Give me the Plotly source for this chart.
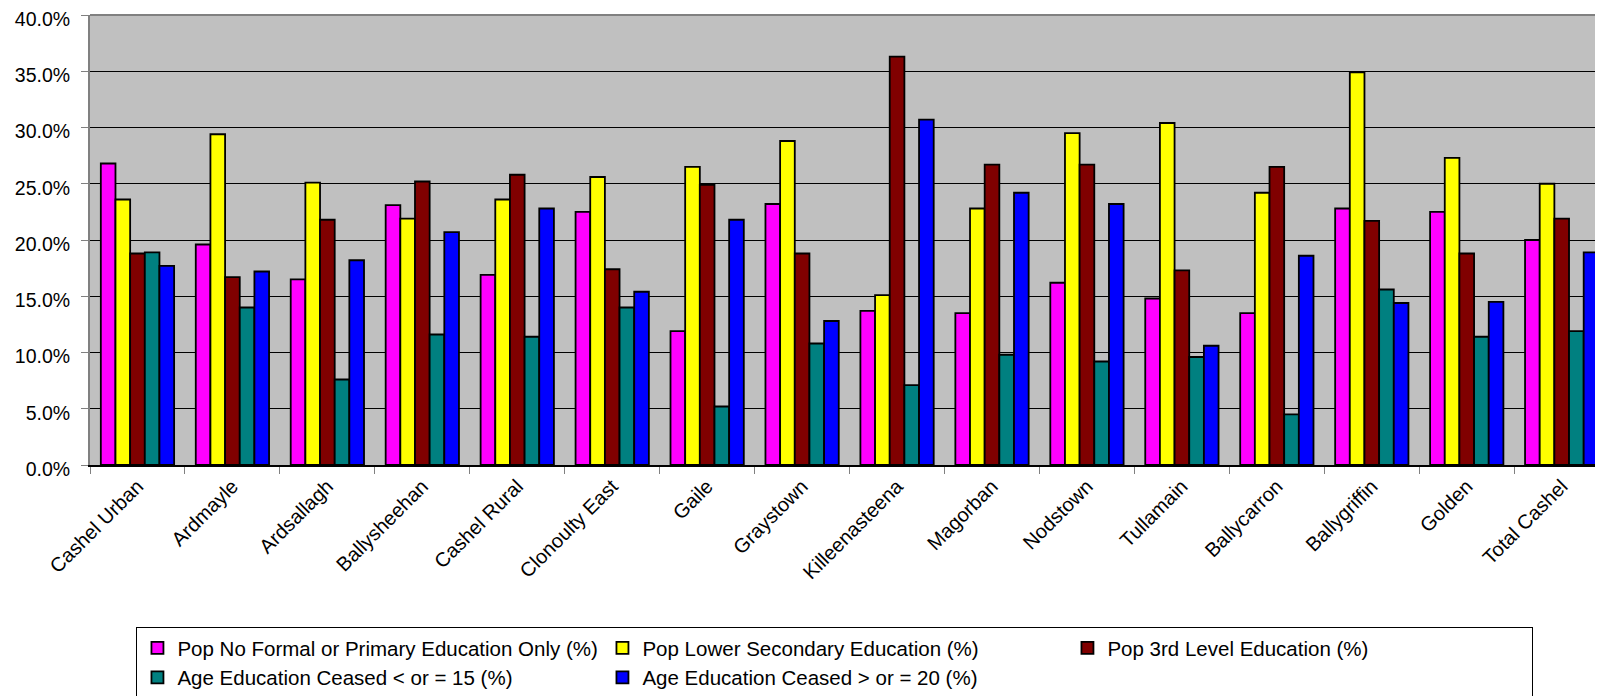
import plotly.graph_objects as go

# Education levels by area, values in percent
areas = ["Cashel Urban", "Ardmayle", "Ardsallagh", "Ballysheehan", "Cashel Rural",
         "Clonoulty East", "Gaile", "Graystown", "Killeenasteena", "Magorban",
         "Nodstown", "Tullamain", "Ballycarron", "Ballygriffin", "Golden", "Total Cashel"]

no_formal_primary = [26.8, 19.6, 16.5, 23.1, 16.9, 22.5, 11.9, 23.2, 13.7, 13.5,
                     16.2, 14.8, 13.5, 22.8, 22.5, 20.0]
lower_secondary = [23.6, 29.4, 25.1, 21.9, 23.6, 25.6, 26.5, 28.8, 15.1, 22.8,
                   29.5, 30.4, 24.2, 34.9, 27.3, 25.0]
third_level = [18.8, 16.7, 21.8, 25.2, 25.8, 17.4, 24.9, 18.8, 36.3, 26.7,
               26.7, 17.3, 26.5, 21.7, 18.8, 21.9]
ceased_15 = [18.9, 14.0, 7.6, 11.6, 11.4, 14.0, 5.2, 10.8, 7.1, 9.8,
             9.2, 9.6, 4.5, 15.6, 11.4, 11.9]
ceased_20 = [17.7, 17.2, 18.2, 20.7, 22.8, 15.4, 21.8, 12.8, 30.7, 24.2,
             23.2, 10.6, 18.6, 14.4, 14.5, 18.9]

series = [
    ("Pop No Formal or Primary Education Only (%)", no_formal_primary, "#FF00FF"),
    ("Pop Lower Secondary Education (%)", lower_secondary, "#FFFF00"),
    ("Pop 3rd Level Education (%)", third_level, "#800000"),
    ("Age Education Ceased < or = 15 (%)", ceased_15, "#008080"),
    ("Age Education Ceased > or = 20 (%)", ceased_20, "#0000FF"),
]

fig = go.Figure()
for name, vals, color in series:
    fig.add_trace(go.Bar(x=areas, y=vals, name=name,
                         marker=dict(color=color, line=dict(color="black", width=1.8))))

font = "Liberation Sans, Arial, sans-serif"

# last category is cut off at the right edge, like the source image
fig.update_xaxes(type="category", range=[-0.5, 15.435], tickangle=-45, automargin=False,
                 showline=True, linecolor="black", linewidth=1.5,
                 ticks="outside", tickson="boundaries", ticklen=7, tickcolor="#808080",
                 ticklabeloverflow="allow",
                 tickfont=dict(family=font, size=20, color="black"), showgrid=False)
fig.update_yaxes(range=[0, 40], dtick=5, tickformat=".1f", ticksuffix="%", automargin=False,
                 showline=True, linecolor="#808080", linewidth=2,
                 ticks="outside", ticklen=7, tickcolor="#808080", ticklabelstandoff=7,
                 ticklabeloverflow="allow", ticklabelshift=4,
                 gridcolor="black", gridwidth=1, zeroline=False,
                 tickfont=dict(family=font, size=19.5, color="black"))

fig.add_shape(type="line", xref="paper", yref="paper", x0=0, x1=1, y0=1, y1=1,
              line=dict(color="#808080", width=2))

# page body has an 8px margin, so the figure is sized/offset to compensate
fig.update_layout(
    width=1595, height=688,
    margin=dict(l=82, r=0, t=7, b=231, autoexpand=False),
    plot_bgcolor="#C0C0C0", paper_bgcolor="white",
    barmode="group", bargap=0.228, bargroupgap=0,
    font=dict(family=font, color="black"),
    legend=dict(orientation="h", x=0.0307, xanchor="left", y=-0.36, yanchor="top",
                entrywidth=420, entrywidthmode="pixels",
                bordercolor="black", borderwidth=1, bgcolor="white",
                font=dict(family=font, size=20.5, color="black"), traceorder="normal"),
)

fig.write_html("out.html")
